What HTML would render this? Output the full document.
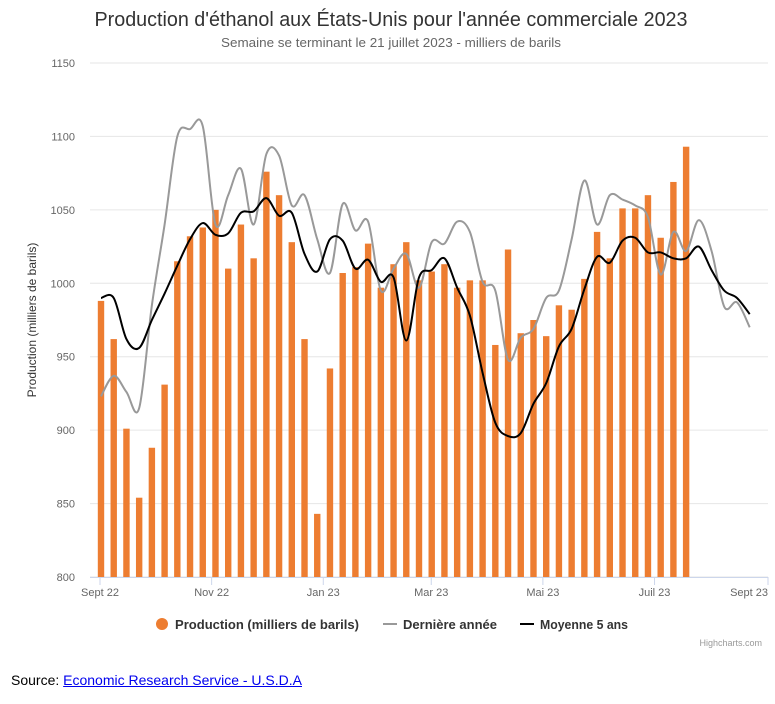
<!DOCTYPE html>
<html><head><meta charset="utf-8"><style>
body{margin:0;background:#fff;width:775px;height:704px;overflow:hidden;font-family:"Liberation Sans",sans-serif}
svg text{font-family:"Liberation Sans",sans-serif}
#src{position:absolute;left:11px;top:672px;font-size:14px;font-family:"Liberation Sans",sans-serif;color:#000}
#src a{color:#0000ee}
</style></head><body>
<svg id="chart" width="775" height="704" style="position:absolute;left:0;top:0">
<text x="391" y="26" text-anchor="middle" font-size="20" fill="#333" textLength="593" lengthAdjust="spacingAndGlyphs">Production d'éthanol aux États-Unis pour l'année commerciale 2023</text>
<text x="391" y="47" text-anchor="middle" font-size="12.5" fill="#666" textLength="340" lengthAdjust="spacingAndGlyphs">Semaine se terminant le 21 juillet 2023 - milliers de barils</text>
<g id="grid"></g><g id="bars"></g><g id="lines"></g><g id="xaxis"></g>
<text transform="translate(36,320) rotate(-90)" text-anchor="middle" font-size="12" fill="#333">Production (milliers de barils)</text>
<g font-size="13" font-weight="bold" fill="#333">
<g><circle cx="162" cy="624" r="6" fill="#ed7d31"/><text x="175" y="629" textLength="184" lengthAdjust="spacingAndGlyphs">Production (milliers de barils)</text></g>
<g><line x1="383" y1="624" x2="397" y2="624" stroke="#999" stroke-width="2"/><text x="403" y="629" textLength="94" lengthAdjust="spacingAndGlyphs">Dernière année</text></g>
<g><line x1="520" y1="624" x2="534" y2="624" stroke="#000" stroke-width="2"/><text x="540" y="629" textLength="88" lengthAdjust="spacingAndGlyphs">Moyenne 5 ans</text></g>
</g>
<text x="762" y="646" text-anchor="end" font-size="9" fill="#999">Highcharts.com</text>
</svg>
<div id="src">Source: <a href="#">Economic Research Service - U.S.D.A</a></div>
<script>
const production=[988,962,901,854,888,931,1015,1032,1038,1050,1010,1040,1017,1076,1060,1028,962,843,942,1007,1011,1027,997,1013,1028,1002,1008,1013,997,1002,1002,958,1023,966,975,964,985,982,1003,1035,1017,1051,1051,1060,1031,1069,1093];
const lastYear=[923,937,926,915,985,1040,1100,1105,1107,1040,1060,1078,1040,1088,1087,1053,1060,1030,1007,1054,1036,1042,995,1010,1020,997,1028,1027,1042,1035,1001,995,948,963,969,990,995,1030,1070,1040,1060,1057,1053,1045,1006,1035,1022,1043,1022,984,987,970];
const avg5=[990,990,962,956,975,993,1012,1030,1041,1033,1034,1048,1049,1058,1046,1048,1020,1008,1030,1029,1010,1016,1001,1004,961,1004,1009,1017,997,978,939,905,896,898,918,932,957,969,996,1018,1014,1029,1031,1021,1021,1017,1017,1025,1009,995,990,979];
const yTicks=[800,850,900,950,1000,1050,1100,1150];
const xTickLabels=["Sept 22","Nov 22","Jan 23","Mar 23","Mai 23","Juil 23","Sept 23"];
const xTickDays=[0,61,122,181,242,303,365];
const NS="http://www.w3.org/2000/svg";
const X0=100,X1=768,Y0=577,Y1=63;
const xd=d=>X0+d*(X1-X0)/365;
const xw=i=>101+12.72*i;
const y=v=>Y0-(v-800)*(Y0-Y1)/350;
function mk(t,a,p){const e=document.createElementNS(NS,t);for(const k in a)e.setAttribute(k,a[k]);p.appendChild(e);return e;}
const grid=document.getElementById('grid');
yTicks.forEach(v=>{
 const l=mk('line',{x1:90,x2:X1,y1:y(v),y2:y(v),stroke:'#e6e6e6'},grid);
 
 
 const t=mk('text',{x:75,y:y(v)+4,'text-anchor':'end','font-size':11,fill:'#666'},grid);t.textContent=v;
 
 
});
const bars=document.getElementById('bars');
production.forEach((v,i)=>{
 const r=mk('rect',{x:xw(i)-3.2,y:y(v),width:6.4,height:Y0-y(v),fill:'#ed7d31'},bars);
 
 
});
function spline(vals){
 const p=vals.map((v,i)=>[xw(i),y(v)]);let d='M'+p[0][0]+','+p[0][1];
 for(let i=0;i<p.length-1;i++){const a=p[Math.max(0,i-1)],b=p[i],c=p[i+1],e=p[Math.min(p.length-1,i+2)];
  d+=` C${b[0]+(c[0]-a[0])/6},${b[1]+(c[1]-a[1])/6} ${c[0]-(e[0]-b[0])/6},${c[1]-(e[1]-b[1])/6} ${c[0]},${c[1]}`;}
 return d;}
const lines=document.getElementById('lines');
const g1=mk('path',{d:spline(lastYear),fill:'none',stroke:'#999',"stroke-width":2},lines);


const g2=mk('path',{d:spline(avg5),fill:'none',stroke:'#000',"stroke-width":2},lines);


const xa=document.getElementById('xaxis');
const ax=mk('line',{x1:90,x2:X1,y1:Y0+0.5,y2:Y0+0.5,stroke:'#ccd6eb'},xa);


xTickDays.forEach((d,i)=>{
 const x=xd(d);
 mk('line',{x1:x,x2:x,y1:Y0,y2:Y0+8,stroke:'#ccd6eb'},xa);
 const last=i===xTickDays.length-1;
 const t=mk('text',{x:x,y:Y0+19,'text-anchor':last?'end':'middle','font-size':11,fill:'#666'},xa);
 t.textContent=xTickLabels[i];
 
 
});
</script>
</body></html>
